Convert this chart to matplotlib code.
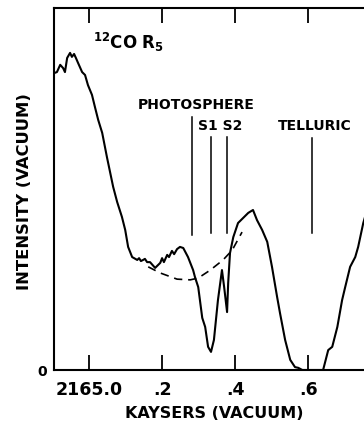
import matplotlib
matplotlib.use("Agg")
import matplotlib.pyplot as plt

plt.rcParams["font.family"] = "DejaVu Sans"
plt.rcParams["font.weight"] = "bold"
plt.rcParams["mathtext.fontset"] = "dejavusans"

# Spectrum trace: wavenumber (kaysers) and intensity (arbitrary, 0 at the zero line)
wavenumber = [
    2164.904, 2164.912, 2164.921, 2164.929, 2164.934, 2164.940, 2164.948, 2164.953,
    2164.959, 2164.964, 2164.970, 2164.981, 2164.989, 2164.997, 2165.008, 2165.016,
    2165.025, 2165.036, 2165.049, 2165.066, 2165.077, 2165.090, 2165.099, 2165.107,
    2165.118, 2165.132, 2165.137, 2165.142, 2165.148, 2165.153, 2165.159, 2165.167,
    2165.181, 2165.195, 2165.200, 2165.205, 2165.214, 2165.219, 2165.227, 2165.233,
    2165.241, 2165.249, 2165.258, 2165.271, 2165.285, 2165.290, 2165.299, 2165.310,
    2165.318, 2165.326, 2165.334, 2165.342, 2165.353, 2165.364, 2165.370, 2165.378,
    2165.381, 2165.386, 2165.395, 2165.408, 2165.422, 2165.436, 2165.449, 2165.460,
    2165.474, 2165.488, 2165.501, 2165.515, 2165.523, 2165.537, 2165.551, 2165.564,
    2165.573, 2165.584, 2165.641, 2165.655, 2165.666, 2165.680, 2165.693, 2165.701,
    2165.715, 2165.729, 2165.737, 2165.751, 2165.759,
]
intensity = [
    82.0, 82.3, 84.3, 83.4, 82.3, 86.2, 87.6, 86.5,
    87.3, 86.2, 84.8, 82.3, 81.5, 78.7, 76.0, 72.7,
    69.1, 65.5, 58.8, 50.6, 46.4, 42.3, 38.7, 34.0,
    31.2, 30.4, 30.9, 30.1, 30.4, 30.7, 29.8, 29.8,
    28.2, 29.6, 30.9, 29.8, 31.8, 31.2, 32.9, 32.0,
    33.4, 34.0, 33.7, 31.2, 27.6, 25.7, 22.9, 14.4,
    11.9, 6.4, 5.0, 8.3, 19.3, 27.6, 22.9, 16.0,
    24.0, 32.3, 36.7, 40.6, 42.0, 43.4, 44.2, 41.4,
    38.7, 35.4, 28.5, 20.2, 15.7, 8.3, 2.8, 0.8,
    0.6, 0.0, 0.0, 5.5, 6.4, 11.9, 19.3, 22.7,
    28.5, 31.2, 34.0, 40.6, 43.4,
]

# Interpolated photospheric continuum (dashed)
continuum_x = [2165.162, 2165.195, 2165.241, 2165.277, 2165.299, 2165.332, 2165.367, 2165.392, 2165.419]
continuum_y = [28.5, 26.8, 25.1, 24.9, 25.4, 27.6, 30.4, 33.1, 38.1]

# Line-position markers: wavenumber, bottom, top
marker_pos = [2165.282, 2165.334, 2165.378, 2165.611]
marker_bottom = [37.3, 37.8, 37.8, 37.8]
marker_top = [69.9, 64.4, 64.4, 64.1]

tick_pos = [2165.0, 2165.2, 2165.4, 2165.6]
tick_labels = ["2165.0", ".2", ".4", ".6"]

W, H = 364, 425
fig = plt.figure(figsize=(W / 100, H / 100), dpi=100)
left, right, bottom, top = 54, 364, 370, 8
ax = fig.add_axes([left / W, 1 - bottom / H, (right - left) / W, (bottom - top) / H])

ax.plot(wavenumber, intensity, color="black", lw=1.5, solid_joinstyle="round")
ax.plot(continuum_x, continuum_y, color="black", lw=1.2, dashes=(5, 3.5))

for xp, yb, yt in zip(marker_pos, marker_bottom, marker_top):
    ax.plot([xp, xp], [yb, yt], color="black", lw=1.1)

lab_kw = dict(fontsize=10, ha="center", va="bottom", fontweight="bold")
ax.text(2165.293, 71.3, "PHOTOSPHERE", **lab_kw)
ax.text(2165.359, 65.5, "S1 S2", **lab_kw)
ax.text(2165.619, 65.5, "TELLURIC", **lab_kw)
ax.text(2165.011, 88.7, r"$\mathbf{^{12}CO\ R_5}$", fontsize=12, ha="left", va="baseline")

ax.set_xlim(2164.904, 2165.753)
ax.set_ylim(0, 100)

for s in ["left", "bottom", "top"]:
    ax.spines[s].set_linewidth(1.5)
ax.spines["right"].set_visible(False)

ax.set_xticks(tick_pos)
ax.set_xticklabels(tick_labels, fontsize=12.5, fontweight="bold")
ax.tick_params(axis="x", which="both", direction="in", length=10.5, width=1.3,
               top=True, bottom=True, pad=8)
ax.set_yticks([0])
ax.set_yticklabels(["0"], fontsize=10, fontweight="bold")
ax.tick_params(axis="y", length=0, pad=5)

fig.text(25 / W, 1 - 192 / H, "INTENSITY (VACUUM)", rotation=90, fontsize=11.8,
         fontweight="bold", ha="center", va="center")
fig.text(214 / W, 1 - 413 / H, "KAYSERS (VACUUM)", fontsize=11.5,
         fontweight="bold", ha="center", va="center")

fig.savefig("out.png", dpi=100)
